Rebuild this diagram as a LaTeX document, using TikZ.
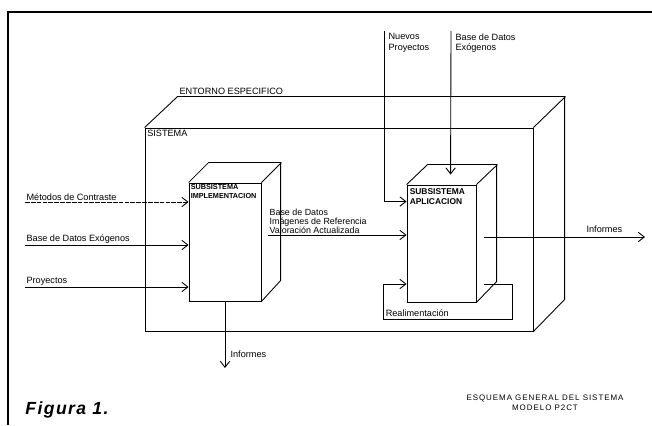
\documentclass[tikz,border=0pt]{standalone}
\usepackage{fontspec}
\setmainfont{Liberation Sans}
\newfontfamily\figfont[LetterSpace=8]{Liberation Sans}
\newfontfamily\capsfont[LetterSpace=12]{Liberation Sans}
\usetikzlibrary{arrows.meta, calc, positioning}

\begin{document}
\begin{tikzpicture}[x=0.03cm, y=-0.03cm, font=\fontsize{7.8}{8.8}\selectfont, line width=0.75pt,
    box/.style={draw, fill=white, inner sep=0pt},
    arr/.style={-{Straight Barb[length=1.8mm,width=2.8mm]}},
    lbl/.style={inner sep=1pt, anchor=south west, align=left},
    tit/.style={inner sep=1.5pt, anchor=north west, align=left, font=\fontsize{6.2}{7.5}\selectfont\bfseries}
]
    \useasboundingbox (0,0) rectangle (652,425);
    % marco
    \draw[line width=1.5pt] (7,12) -- (652,12);
    \draw[line width=2pt] (8,12) -- (8,425);

    % sistema / entorno
    \node[box, minimum width=11.64cm, minimum height=6.09cm] (sis) at (339,229.5) {};
    \draw (sis.north west) -- ++(33,-31) -- ++(387,0) -- ++(0,203) -- (sis.south east);
    \draw (sis.north east) -- ++(32,-31);
    \node[lbl] (ent) at (178,96) {ENTORNO ESPECIFICO};
    \node[anchor=north west, inner sep=2pt] (sisl) at (sis.north west) {SISTEMA};

    % subsistemas
    \node[box, minimum width=2.16cm, minimum height=3.54cm] (impl) at (225,242) {};
    \draw (impl.north west) -- ++(20,-20) -- ++(72,0) -- ++(0,118) -- (impl.south east);
    \draw (impl.north east) -- ++(20,-20);
    \node[tit] (implt) at (impl.north west) {SUBSISTEMA\\IMPLEMENTACION};

    \node[box, minimum width=2.07cm, minimum height=3.51cm] (apl) at (441.5,243.5) {};
    \draw (apl.north west) -- ++(21,-20) -- ++(69,0) -- ++(0,117) -- (apl.south east);
    \draw (apl.north east) -- ++(21,-20);
    \node[tit, font=\fontsize{7.2}{8.5}\selectfont\bfseries] (aplt) at ($(apl.north west)+(1,2)$) {SUBSISTEMA\\APLICACION};

    % entradas
    \coordinate (mc) at (25,202);
    \coordinate (bde) at (25,245);
    \coordinate (pr) at (25,287);
    \draw[arr, dash pattern=on 4pt off 1pt] (mc) -- (mc -| impl.west);
    \draw[arr] (bde) -- (bde -| impl.west);
    \draw[arr] (pr) -- (pr -| impl.west);
    \node[lbl] (mcl) at (mc) {Métodos de Contraste};
    \node[lbl] (bdel) at (bde) {Base de Datos Exógenos};
    \node[lbl] (prl) at (pr) {Proyectos};

    \coordinate (bdr) at (268,235);
    \draw[arr] (bdr) -- (bdr -| apl.west);
    \node[lbl, font=\fontsize{7.6}{7.6}\selectfont] (bdrl) at (bdr) {Base de Datos\\Imágenes de Referencia\\Valoración Actualizada};

    \coordinate (np) at (384,31);
    \coordinate (bdx) at (451,31);
    \draw[arr] (np) |- ($(apl.north west)+(0,17)$);
    \draw[arr] (bdx) -- ($(apl.north west)+(44,-10)$);
    \node[anchor=north west, align=left, inner sep=1pt] (npl) at ($(np)+(3,1)$) {Nuevos\\Proyectos};
    \node[anchor=north west, align=left, inner sep=1pt] (bdxl) at ($(bdx)+(3,1)$) {Base de Datos\\Exógenos};

    % salidas
    \coordinate (inf1) at (225,368);
    \draw[arr] (impl.south) -- (inf1);
    \node[anchor=west, inner sep=1pt] (inf1l) at (229,354) {Informes};

    \coordinate (ia) at (484,237);
    \coordinate (inf2) at (645,237);
    \draw[arr] (ia) -- (inf2);
    \node[lbl] (inf2l) at (585,234) {Informes};

    % realimentacion
    \coordinate (ra) at (484,284);
    \coordinate (rb) at (512,319);
    \coordinate (rc) at (383,319);
    \draw[arr] (ra) -| (rb) -- (rc) |- (ra -| apl.west);
    \node[lbl, inner sep=2pt] (ral) at (rc) {Realimentación};

    % pie
    \node[anchor=base west, inner sep=0pt, font=\figfont\fontsize{15}{17}\selectfont\bfseries\itshape] (fig) at (25,414) {Figura 1.};
    \node[align=center, font=\capsfont\fontsize{6.8}{8.8}\selectfont] (esq) at (545,403) {ESQUEMA GENERAL DEL SISTEMA\\MODELO P2CT};
\end{tikzpicture}
\end{document}
